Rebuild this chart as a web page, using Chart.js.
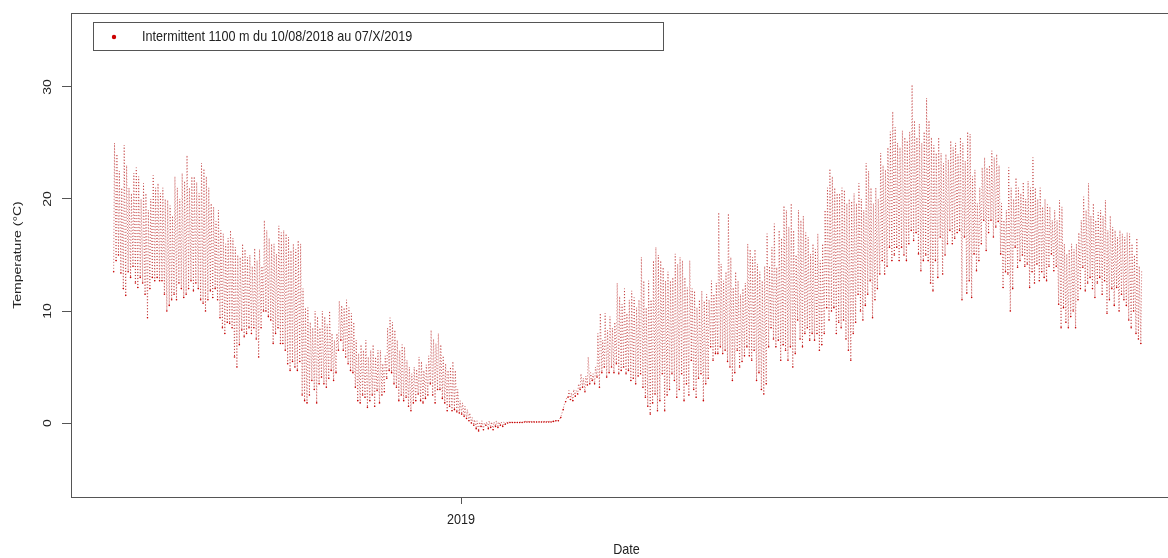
<!DOCTYPE html>
<html>
<head>
<meta charset="utf-8">
<script src="https://cdn.jsdelivr.net/npm/chart.js@4.4.0/dist/chart.umd.min.js"></script>
<style>
  html, body { margin: 0; padding: 0; background: #fff; overflow: hidden; }
  #wrap { width: 1180px; height: 558px; }
</style>
</head>
<body>
<div id="wrap"><canvas id="myChart" width="1180" height="558"></canvas></div>
<script>
// days counted from 10/08/2018 (day 0)
const seriesLabel = 'Intermittent 1100 m du 10/08/2018 au 07/X/2019';
const yearTicks = [144];
const yearLabels = ['2019'];
const tempTicks = [0, 10, 20, 30];

// daily maximum
const dayMax = [
  25, 24, 22.5, 21, 24.8, 23, 21, 20.5, 22.3, 22.8,
  22, 20, 21.4, 20.5, 19, 20, 22.1, 21, 21.4, 20.5,
  21, 20, 19.9, 19.4, 18.5, 22, 21, 20, 22.3, 21.6,
  23.9, 21, 22, 22, 21.5, 20.5, 23.2, 22.7, 22, 21,
  19.6, 19.3, 18, 19, 17.2, 16.9, 16, 16.5, 17.2, 16.5,
  15.7, 15, 14.8, 16, 15.5, 14.8, 15, 14, 15.6, 14.5,
  15.5, 14, 18.1, 17.2, 16.5, 16, 16, 15.1, 17.6, 17,
  17.2, 16.9, 16.6, 15.4, 16, 15.5, 16.3, 16, 12, 10.3,
  10.3, 9, 8.5, 10, 9.5, 8.5, 10, 9.5, 8.8, 10,
  8, 7.4, 8, 10.9, 10.5, 10.3, 11, 10.3, 9.8, 9,
  7.4, 6.2, 7, 6.5, 7.4, 5.9, 6.5, 7, 5.9, 6.5,
  6.5, 5.3, 6, 8.5, 9.4, 9, 8.3, 7.4, 6.5, 7,
  6.8, 5.6, 5, 4.4, 5, 4.8, 5.9, 5.5, 4.7, 5.2,
  6, 8.3, 7.5, 7.1, 8, 7, 6, 5.3, 4.7, 5,
  5.5, 4.7, 3, 2, 1.8, 1.5, 1.2, 0.9, 0.5, 0.3,
  0.2, 0.1, 0.2, 0, 0.1, 0.2, 0.1, 0.1, 0.2, 0.1,
  0.1, 0.1, 0.1, 0.1, 0.1, 0.1, 0.1, 0.1, 0.1, 0.1,
  0.15, 0.15, 0.15, 0.15, 0.15, 0.15, 0.15, 0.15, 0.15, 0.15,
  0.15, 0.15, 0.2, 0.25, 0.3, 0.8, 1.6, 2.2, 2.9, 2.7,
  3, 2.9, 3.5, 4.4, 4, 4.2, 5.9, 4.5, 4.4, 5,
  8, 9.8, 7.4, 9.8, 8.3, 9.5, 8.5, 9, 12.5, 11.3,
  10.6, 12, 9.8, 11, 11.8, 11.2, 10.3, 11, 14.8, 12.7,
  10.3, 12.7, 11, 14.5, 15.7, 15, 14.5, 13.9, 12.7, 13.5,
  12.7, 13, 15.1, 14.2, 14.8, 14.5, 13, 12.1, 14.5, 12,
  11.8, 10.3, 11, 11.8, 10.9, 11.5, 11, 12.7, 11.5, 12.5,
  18.8, 14.2, 12.7, 13.5, 18.7, 14.8, 12.1, 13.5, 12.7, 11.5,
  12, 12.5, 16, 15.5, 14.8, 15.5, 14.2, 13.5, 12.7, 14,
  16.9, 14, 15.7, 17.8, 13.9, 17.2, 16.5, 19.4, 19, 17.5,
  19.6, 17.2, 15, 19, 18.1, 18.5, 17, 16.6, 15.1, 16,
  15.5, 16.9, 14.5, 16, 19, 21, 22.7, 22, 21, 20.5,
  20.5, 21, 20.8, 19.6, 20, 19.8, 20.5, 19.6, 21.4, 20,
  19, 23.2, 22.5, 21, 19.6, 21, 20, 24.1, 23, 22.6,
  24.6, 26, 27.8, 26.4, 25, 24.6, 26.1, 25.5, 25.2, 26,
  30.2, 27, 25.5, 26.7, 25, 26, 29, 27, 25.5, 24.8,
  24.1, 25.5, 24.1, 23.2, 24, 23.5, 25.2, 24.6, 25, 24,
  25.5, 25, 23.4, 26, 25.8, 22, 22.6, 19.6, 21, 22.8,
  23.7, 22.8, 23, 24.3, 23.7, 24, 23, 19.6, 18.1, 19,
  22.8, 21, 20, 21.9, 21, 20.5, 21.5, 20, 21.6, 21,
  23.7, 21, 20, 21, 19.3, 20, 19.5, 19.3, 18.1, 19,
  18.1, 19.9, 19.3, 16, 15.1, 15.5, 16, 15.5, 16, 17,
  18.1, 20.2, 19, 21.4, 18.5, 19.6, 18.1, 18.8, 19, 18.5,
  19.9, 17.2, 18.5, 17.5, 17.2, 16.6, 17.2, 16.9, 16.6, 17,
  16.9, 16, 15, 16.5, 14, 13.6
];

// daily minimum
const dayMin = [
  13.5, 14.5, 15, 13.4, 12, 11.4, 13.5, 13, 14, 12.5,
  12.1, 13, 12.5, 11.5, 9.4, 12, 13, 12.7, 13, 12.7,
  12.7, 11.5, 10, 10.5, 11, 11.5, 11, 12.5, 12, 11.2,
  11.5, 12, 12.7, 11.8, 12.5, 12, 11, 10.7, 10, 11,
  11.8, 11.2, 12, 11, 9.4, 8.5, 8, 9, 8.9, 8.5,
  5.9, 5, 7, 8.3, 7.7, 8, 8.5, 8, 8.5, 7.5,
  5.9, 8.5, 10, 10, 9.5, 9.2, 7.1, 8, 8.5, 7.1,
  7.1, 6.5, 5.3, 4.7, 5.5, 5, 4.7, 5.5, 2.5, 2,
  1.8, 2.5, 3.8, 3, 1.8, 3.5, 4.1, 3.5, 3.2, 4,
  4.7, 3.8, 4.5, 6.5, 7.4, 6.5, 5.9, 5.3, 4.7, 4.5,
  3.2, 2, 1.8, 2.5, 2.3, 1.4, 2, 2.5, 1.5, 2.9,
  1.8, 2.5, 2.8, 4, 4.7, 4.5, 3.5, 3.2, 2, 2.5,
  2, 2.3, 1.5, 1.1, 1.8, 2, 2.6, 2, 1.8, 2.2,
  2.5, 3.5, 2.5, 1.8, 3, 3, 2.2, 1.8, 1.1, 1.5,
  1.1, 1.2, 1, 0.9, 0.8, 0.6, 0.4, 0.2, 0, -0.2,
  -0.5, -0.7, -0.3, -0.6, -0.2, -0.5, -0.4, -0.6, -0.3, -0.4,
  -0.2, -0.3, -0.1, 0, 0.05, 0.05, 0.05, 0.05, 0.05, 0.05,
  0.1, 0.1, 0.1, 0.1, 0.1, 0.1, 0.1, 0.1, 0.1, 0.1,
  0.1, 0.1, 0.15, 0.2, 0.2, 0.5, 1.2, 1.9, 2.3, 2.1,
  2, 2.4, 2.6, 3, 3.2, 2.8, 3.4, 3.5, 3.8, 3.5,
  4.1, 3.2, 4.5, 5, 4.1, 4.5, 5, 4.5, 5.3, 4.4,
  4.7, 5, 4.4, 4.7, 3.8, 4, 3.5, 4.2, 4.4, 3.2,
  2.3, 1.5, 0.8, 1.8, 2.6, 1.1, 2, 4.4, 1.1, 2.5,
  3, 4.4, 3.8, 2.3, 3, 4.4, 2, 3.5, 2.5, 5.6,
  3, 2.3, 4, 4.4, 2, 3.5, 4, 6.8, 5.6, 6.2,
  6.2, 6.8, 6.2, 6.5, 5.5, 5, 3.8, 4.5, 6.5, 5,
  5.5, 6, 6.8, 6, 5.6, 6.5, 3.8, 4.5, 3, 2.6,
  3.5, 6.8, 8.5, 7.5, 6.8, 7.4, 5.6, 7, 6.5, 5.6,
  6.8, 5, 6.2, 9.2, 7.5, 6.8, 8, 8.5, 7.4, 8,
  7.4, 8, 6.5, 7, 8, 10.3, 9.2, 10, 10.3, 8,
  9, 8.5, 9.2, 7.5, 6.5, 5.6, 8, 9, 11.5, 10,
  9.2, 10.5, 11.5, 12.7, 9.4, 11, 12, 13.3, 14.5, 13.3,
  14, 15.7, 14.5, 15, 15.7, 14.5, 15.7, 15, 14.5, 16,
  17.2, 16.3, 17, 15.1, 13.6, 14.5, 15, 14.5, 12.5, 11.8,
  14.5, 13, 16.6, 13.3, 15, 16, 17.2, 16, 16.5, 17,
  17.2, 11, 16.6, 11.6, 12.7, 11.2, 15.1, 13.6, 14.5, 16,
  18.1, 15.4, 17, 18.1, 16.6, 17.5, 18, 15.1, 12.1, 13.5,
  13.3, 10, 12, 15.7, 13.9, 14.5, 15, 14, 14.2, 12.1,
  13.5, 12.5, 14.2, 12.7, 13.5, 13, 12.7, 14, 15.1, 13.6,
  14, 10.6, 8.5, 10.3, 9, 8.5, 9.5, 10, 8.5, 11,
  12, 13.9, 11.8, 12.5, 13, 12, 11.2, 12.5, 13, 11.5,
  12.7, 9.8, 11, 12, 10.5, 12.1, 10, 11.5, 11, 10.5,
  9.2, 8.5, 10, 8, 7.5, 7.1
];

function buildPoints() {
  let pts = [];
  for (let d = 0; d < dayMax.length; d++) {
    pts.push({ x: d + 0.25, y: dayMin[d], low: true });
    pts.push({ x: d + 0.6, y: dayMax[d], low: false });
  }
  return pts;
}

// R-like text: a bit narrower than the font
function drawText(ctx, txt, x, y, size, rotated) {
  ctx.save();
  ctx.translate(x, y);
  if (rotated) {
    ctx.rotate(-Math.PI / 2);
    ctx.scale(1, 0.8);
  } else {
    ctx.scale(0.84, 1);
  }
  ctx.font = size + 'px "Liberation Sans", Arial, sans-serif';
  ctx.fillStyle = '#222';
  ctx.textAlign = 'center';
  ctx.textBaseline = 'middle';
  ctx.fillText(txt, 0, 0);
  ctx.restore();
}

const rPlot = {
  id: 'rPlot',
  afterDraw(chart) {
    const ctx = chart.ctx;
    const a = chart.chartArea;
    const xs = chart.scales.x;
    const ys = chart.scales.y;
    ctx.save();
    ctx.strokeStyle = '#555';
    ctx.lineWidth = 1;
    ctx.strokeRect(a.left + 0.5, a.top + 0.5, a.right - a.left, a.bottom - a.top);

    // axis texts
    yearTicks.forEach((v, i) => drawText(ctx, yearLabels[i], xs.getPixelForValue(v), 520, 15, false));
    drawText(ctx, 'Date', (a.left + a.right) / 2 + 3, 550, 15, false);
    tempTicks.forEach(v => drawText(ctx, String(v), 48, ys.getPixelForValue(v), 14, true));
    drawText(ctx, 'Temperature (°C)', 18, (a.top + a.bottom) / 2, 14, true);

    // legend box
    ctx.strokeRect(93.5, 22.5, 570, 28);
    ctx.fillStyle = '#cc0000';
    ctx.beginPath();
    ctx.arc(114, 37, 2.2, 0, Math.PI * 2);
    ctx.fill();
    ctx.save();
    ctx.translate(142, 37);
    ctx.scale(0.84, 1);
    ctx.font = '15px "Liberation Sans", Arial, sans-serif';
    ctx.fillStyle = '#222';
    ctx.textAlign = 'left';
    ctx.textBaseline = 'middle';
    ctx.fillText(chart.data.datasets[0].label, 0, 0);
    ctx.restore();
    ctx.restore();
  },
};

const canvas = document.getElementById('myChart');
new Chart(canvas, {
  type: 'line',
  data: {
    datasets: [
      {
        label: seriesLabel,
        data: buildPoints(),
        borderColor: 'rgba(175, 0, 0, 0.75)',
        borderWidth: 0.8,
        borderDash: [1, 2],
        pointRadius: (c) => (c.raw && c.raw.low ? 0.8 : 0),
        pointBackgroundColor: '#c80000',
        pointBorderWidth: 0,
        tension: 0,
      },
    ],
  },
  options: {
    responsive: false,
    animation: false,
    devicePixelRatio: 1,
    layout: { padding: { top: 13, right: 4, left: 0, bottom: 0 } },
    plugins: {
      legend: { display: false },
      tooltip: { enabled: false },
    },
    scales: {
      x: {
        type: 'linear',
        min: -17.4,
        max: 439.8,
        afterBuildTicks: (s) => { s.ticks = yearTicks.map(v => ({ value: v })); },
        afterFit: (s) => { s.height = 61; },
        ticks: { display: false },
        grid: { drawOnChartArea: false, drawTicks: true, tickLength: 7, color: '#555' },
        border: { display: false },
      },
      y: {
        min: -6.6,
        max: 36.6,
        afterBuildTicks: (s) => { s.ticks = tempTicks.map(v => ({ value: v })); },
        afterFit: (s) => { s.width = 71; },
        ticks: { display: false },
        grid: { drawOnChartArea: false, drawTicks: true, tickLength: 9, color: '#555' },
        border: { display: false },
      },
    },
  },
  plugins: [rPlot],
});
</script>
</body>
</html>
